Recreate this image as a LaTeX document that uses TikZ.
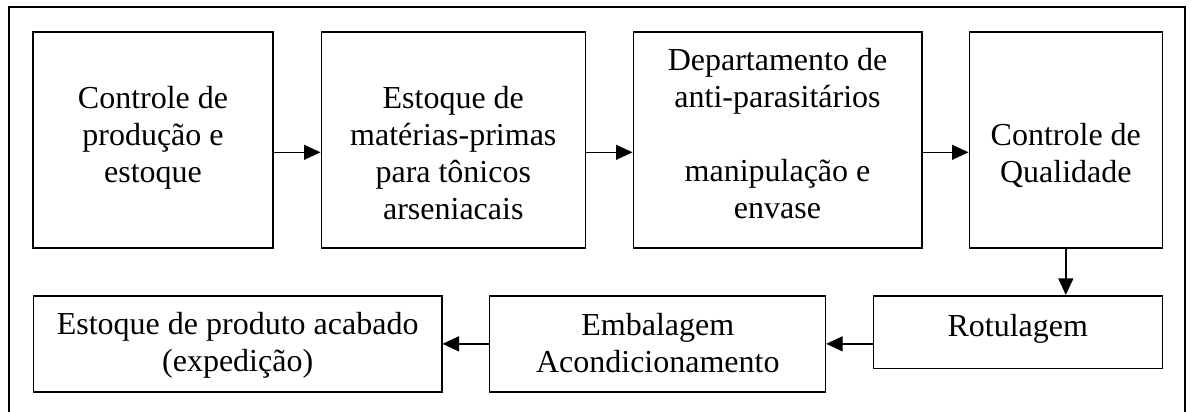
\documentclass[tikz,border=0pt]{standalone}
\usepackage{fontspec}
\setmainfont{Liberation Serif}
\usetikzlibrary{arrows.meta}
\begin{document}
\begin{tikzpicture}[x=1pt,y=-1pt,
  box/.style={draw,line width=1.6pt,rectangle,inner sep=0pt,minimum width=#1},
  txt/.style={anchor=base,align=center,inner sep=0pt,font=\fontsize{32}{36.8}\selectfont},
  arr/.style={line width=1.4pt,-{Triangle[length=16.5pt,width=15pt]}}]
\useasboundingbox (0,0) rectangle (1192,412);
\draw[line width=2pt] (9,420) -- (9,7.5) -- (1185,7.5) -- (1185,420);
% top row
\node[box=240pt,minimum height=215.7pt] (b1) at (153,140.15) {};
\node[box=264pt,minimum height=215.7pt] (b2) at (453.3,140.15) {};
\node[box=288.4pt,minimum height=215.7pt] (b3) at (777.5,140.15) {};
\node[box=193pt,minimum height=215.7pt] (b4) at (1065.8,140.15) {};
% bottom row
\node[box=408.1pt,minimum height=96.3pt] (b7) at (237.65,343.85) {};
\node[box=336.1pt,minimum height=96.3pt] (b6) at (657.35,343.85) {};
\node[box=289pt,minimum height=72.6pt] (b5) at (1017.8,332) {};
% texts (anchor base = baseline of the last line)
\node[txt] (t1) at (153,182) {Controle de\\produção e\\estoque};
\node[txt] (t2) at (453.3,219.3) {Estoque de\\matérias-primas\\para tônicos\\arseniacais};
\node[txt] (t3) at (777.5,218) {Departamento de\\anti-parasitários\\\mbox{}\\manipulação e\\envase};
\node[txt] (t4) at (1065.8,182.7) {Controle de\\Qualidade};
\node[txt] (t5) at (1017.8,336.5) {Rotulagem};
\node[txt] (t6) at (657.8,372) {Embalagem\\Acondicionamento};
\node[txt] (t7) at (237.65,371) {Estoque de produto acabado\\(expedição)};
% connectors
\coordinate (ay) at (0,152.3);
\draw[arr] (b1.east |- ay) -- (b2.west |- ay);
\draw[arr] (b2.east |- ay) -- (b3.west |- ay);
\draw[arr] (b3.east |- ay) -- (b4.west |- ay);
\draw[arr] (b4.south) -- (b4.south |- b5.north);
\draw[arr] (b5.west |- b6.east) -- (b6.east);
\draw[arr] (b6.west) -- (b7.east);
\end{tikzpicture}
\end{document}
